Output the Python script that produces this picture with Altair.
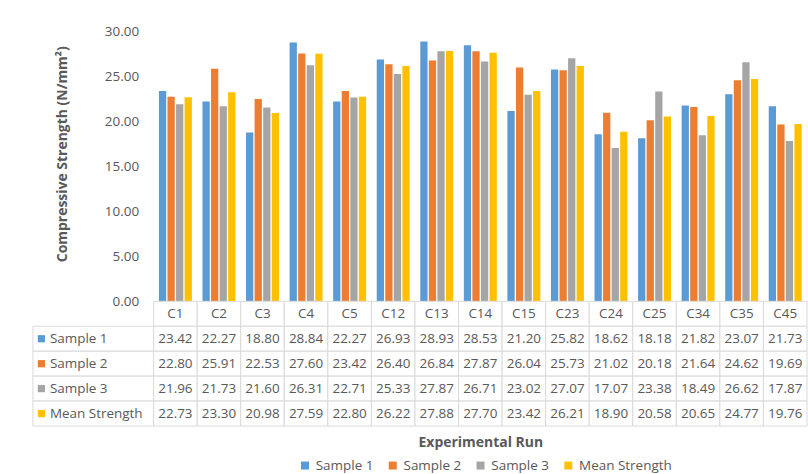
import altair as alt
import pandas as pd

# ---- data -------------------------------------------------------------
runs = ["C1", "C2", "C3", "C4", "C5", "C12", "C13", "C14", "C15",
        "C23", "C24", "C25", "C34", "C35", "C45"]
series = ["Sample 1", "Sample 2", "Sample 3", "Mean Strength"]
sample_1 = [23.42, 22.27, 18.80, 28.84, 22.27, 26.93, 28.93, 28.53, 21.20,
            25.82, 18.62, 18.18, 21.82, 23.07, 21.73]
sample_2 = [22.80, 25.91, 22.53, 27.60, 23.42, 26.40, 26.84, 27.87, 26.04,
            25.73, 21.02, 20.18, 21.64, 24.62, 19.69]
sample_3 = [21.96, 21.73, 21.60, 26.31, 22.71, 25.33, 27.87, 26.71, 23.02,
            27.07, 17.07, 23.38, 18.49, 26.62, 17.87]
mean_strength = [22.73, 23.30, 20.98, 27.59, 22.80, 26.22, 27.88, 27.70, 23.42,
                 26.21, 18.90, 20.58, 20.65, 24.77, 19.76]
y_ticks = [0, 5, 10, 15, 20, 25, 30]

# ---- styling ----------------------------------------------------------
FONT = "Open Sans"
TEXT = "#595959"
BORDER = "#d9d9d9"
PALETTE = ["#5B9BD5", "#ED7D31", "#A5A5A5", "#FFC000"]
FS = 13.5

HEADER = "run"
row_domain = [HEADER] + series

by_series = dict(zip(series, [sample_1, sample_2, sample_3, mean_strength]))
long_df = pd.DataFrame(
    [{"run": r, "series": s, "value": v}
     for s in series for r, v in zip(runs, by_series[s])]
)

# table cells: header row with run names, then one row per series
table_df = pd.concat([
    pd.DataFrame({"run": runs, "row": HEADER, "label": runs}),
    pd.DataFrame({"run": long_df["run"], "row": long_df["series"],
                  "label": long_df["value"].map(lambda v: f"{v:.2f}")}),
], ignore_index=True)

label_df = pd.DataFrame({"col": "label", "row": series})

color_scale = alt.Scale(domain=series, range=PALETTE)
run_scale = alt.Scale(domain=runs, paddingInner=0, paddingOuter=0)
row_scale = alt.Scale(domain=row_domain, paddingInner=0, paddingOuter=0)

# ---- grouped bars -----------------------------------------------------
bars = alt.Chart(long_df).mark_bar().encode(
    x=alt.X("run:N", sort=runs, scale=run_scale, axis=None),
    xOffset=alt.XOffset("series:N", sort=series,
                        scale=alt.Scale(domain=series, paddingInner=0.15,
                                        paddingOuter=0.62)),
    y=alt.Y("value:Q", scale=alt.Scale(domain=[0, 30], nice=False),
            axis=alt.Axis(values=y_ticks, format=".2f",
                          title="Compressive Strength (N/mm²)",
                          domain=False, ticks=False, grid=False,
                          labelPadding=15, titleX=-84, titleY=122)),
    color=alt.Color("series:N", sort=series, scale=color_scale,
                    legend=alt.Legend(title=None, orient="none",
                                      direction="horizontal",
                                      legendX=145, legendY=427.5,
                                      symbolType="square", symbolSize=64,
                                      symbolStrokeWidth=0, symbolOpacity=1,
                                      labelFontSize=FS, labelColor=TEXT,
                                      labelFont=FONT, labelOffset=4,
                                      columnPadding=12, padding=0)),
).properties(width=655, height=270)

# empty cell above the row-label column
spacer = alt.Chart(label_df).mark_text(opacity=0).encode(
    text="row:N"
).properties(width=121, height=270)

# ---- row-label column of the data table -------------------------------
label_base = alt.Chart(label_df).encode(
    y=alt.Y("row:N", sort=row_domain, scale=row_scale, axis=None)
)
label_cells = label_base.mark_rect(fill="white", stroke=BORDER, strokeWidth=1).encode(
    x=alt.X("col:N", scale=alt.Scale(paddingInner=0, paddingOuter=0), axis=None)
)
label_keys = label_base.mark_square(size=52, opacity=1, xOffset=8.5).encode(
    x=alt.X("col:N", bandPosition=0, axis=None),
    color=alt.Color("row:N", scale=color_scale, legend=None),
)
label_text = label_base.mark_text(align="left", dx=17, font=FONT, fontSize=FS,
                                  color=TEXT).encode(
    x=alt.X("col:N", bandPosition=0, axis=None),
    text="row:N",
)
label_col = alt.layer(label_cells, label_keys, label_text).properties(
    width=121, height=125)

# ---- data table -------------------------------------------------------
table_base = alt.Chart(table_df).encode(
    x=alt.X("run:N", sort=runs, scale=run_scale,
            axis=alt.Axis(title="Experimental Run", labels=False, ticks=False,
                          domain=False, grid=False, titlePadding=9.5)),
    y=alt.Y("row:N", sort=row_domain, scale=row_scale, axis=None),
)
table_cells = table_base.mark_rect(fill="white", stroke=BORDER, strokeWidth=1)
table_text = table_base.mark_text(font=FONT, fontSize=FS, color=TEXT).encode(
    text="label:N"
)
table = alt.layer(table_cells, table_text).properties(width=655, height=125)

chart = alt.concat(
    spacer, bars, label_col, table,
    columns=2, spacing=0, bounds="flush",
).resolve_scale(
    color="independent"
).resolve_legend(
    color="independent"
).properties(
    padding={"left": 32, "top": 24.5, "right": 0, "bottom": 2},
    background="white",
).configure_view(
    stroke=None
).configure_axis(
    labelFont=FONT, labelFontSize=FS, labelColor=TEXT,
    titleFont=FONT, titleFontSize=14, titleColor=TEXT, titleFontWeight="bold",
)

chart.save("out.html", embed_options={"renderer": "svg", "actions": False})
